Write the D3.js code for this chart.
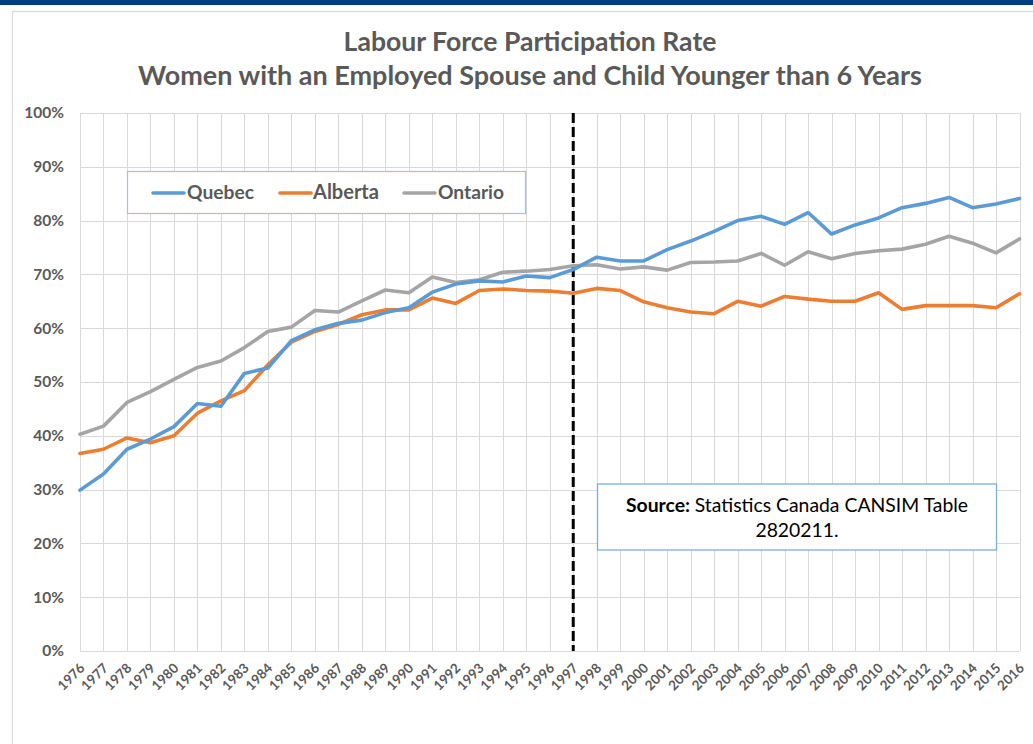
<!DOCTYPE html>
<html>
<head>
<meta charset="utf-8">
<script src="https://cdn.jsdelivr.net/npm/d3@7"></script>
<style>
  html, body { margin: 0; padding: 0; background: #fff; }
  svg { display: block; font-family: Lato, "Open Sans", sans-serif; }
</style>
</head>
<body>
<svg id="chart" width="1033" height="744"></svg>
<script>
const years = d3.range(1976, 2017);
const quebec = [29.9, 32.9, 37.5, 39.4, 41.7, 46.0, 45.5, 51.6, 52.6, 57.7, 59.7, 60.9, 61.5, 62.9, 63.8, 66.7, 68.2, 68.8, 68.6, 69.7, 69.4, 70.9,
  73.2, 72.5, 72.5, 74.6, 76.2, 78.0, 80.0, 80.8, 79.3, 81.5, 77.5, 79.2, 80.5, 82.4, 83.2, 84.3, 82.4, 83.1, 84.1];
const alberta = [36.7, 37.5, 39.6, 38.7, 40.0, 44.2, 46.5, 48.4, 53.2, 57.4, 59.4, 60.7, 62.5, 63.4, 63.4, 65.6, 64.6, 67.0, 67.3, 67.0, 66.9, 66.5,
  67.4, 67.0, 64.9, 63.8, 63.0, 62.7, 65.0, 64.1, 65.9, 65.4, 65.0, 65.0, 66.6, 63.5, 64.2, 64.2, 64.2, 63.8, 66.4];
const ontario = [40.3, 41.8, 46.2, 48.2, 50.5, 52.7, 53.9, 56.4, 59.4, 60.2, 63.3, 63.0, 65.1, 67.1, 66.6, 69.5, 68.5, 69.0, 70.4, 70.6, 70.9, 71.6,
  71.8, 71.0, 71.4, 70.8, 72.2, 72.3, 72.5, 73.9, 71.7, 74.2, 72.9, 73.9, 74.4, 74.7, 75.6, 77.1, 75.8, 74.0, 76.6];
const seriesNames = ["Quebec", "Alberta", "Ontario"];
const seriesColors = ["#5B9BD5", "#ED7D31", "#A5A5A5"];
const yTicks = [0, 10, 20, 30, 40, 50, 60, 70, 80, 90, 100];
const titleLines = ["Labour Force Participation Rate", "Women with an Employed Spouse and Child Younger than 6 Years"];
const markerYear = 1997;
const sourceLabel = "Source:";
const sourceText = ["Statistics Canada CANSIM Table", "2820211."];

const svg = d3.select("#chart");
const textColor = "#595959";

function fitText(sel, target) {
  const w = sel.node().getComputedTextLength();
  const fs = parseFloat(sel.attr("font-size"));
  sel.attr("font-size", (fs * target / w).toFixed(2));
}

// top banner
svg.append("rect").attr("x", 0).attr("y", 0).attr("width", 1033).attr("height", 5).attr("fill", "#003A80");
// chart frame
svg.append("rect").attr("x", 12.5).attr("y", 11.5).attr("width", 1040).attr("height", 760)
  .attr("fill", "#fff").attr("stroke", "#d9d9d9").attr("stroke-width", 1.2);

const x = d3.scaleLinear().domain([1976, 2016]).range([80, 1019.5]);
const y = d3.scaleLinear().domain([0, 100]).range([651, 113]);

// gridlines
const grid = svg.append("g").attr("stroke", "#d9d9d9").attr("stroke-width", 1);
grid.selectAll("line.v").data(years).join("line")
  .attr("x1", d => Math.round(x(d)) + 0.5).attr("x2", d => Math.round(x(d)) + 0.5)
  .attr("y1", y(100)).attr("y2", y(0));
grid.selectAll("line.h").data(yTicks).join("line")
  .attr("x1", x(1976)).attr("x2", x(2016))
  .attr("y1", d => Math.round(y(d)) + 0.5).attr("y2", d => Math.round(y(d)) + 0.5);

// y axis labels
const yAxis = d3.axisLeft(y).tickValues(yTicks).tickFormat(d => d + "%").tickSize(0).tickPadding(0);
const gy = svg.append("g").attr("transform", "translate(64,0)").call(yAxis);
gy.select(".domain").remove();
gy.selectAll("text").attr("fill", textColor).attr("font-size", 15.5).attr("font-weight", "bold")
  .attr("font-family", "Lato, sans-serif");

// x axis labels
const xAxis = d3.axisBottom(x).tickValues(years).tickFormat(d3.format("d")).tickSize(0).tickPadding(0);
const gx = svg.append("g").attr("transform", "translate(0,651)").call(xAxis);
gx.select(".domain").remove();
gx.selectAll("text")
  .attr("fill", textColor).attr("font-size", 13.5).attr("font-weight", "bold")
  .attr("font-family", "Lato, sans-serif")
  .attr("dy", null).attr("y", 0)
  .attr("text-anchor", "end")
  .attr("transform", "translate(5,18) rotate(-45)");

// marker line
svg.append("line")
  .attr("x1", x(markerYear)).attr("x2", x(markerYear))
  .attr("y1", y(100)).attr("y2", y(0))
  .attr("stroke", "#000").attr("stroke-width", 3).attr("stroke-dasharray", "10,4");

// series lines
const allSeries = [quebec, alberta, ontario];
const line = d3.line().x((d, i) => x(years[i])).y(d => y(d));
const drawOrder = [2, 1, 0];
drawOrder.forEach(k => {
  svg.append("path").datum(allSeries[k])
    .attr("d", line).attr("fill", "none")
    .attr("stroke", seriesColors[k]).attr("stroke-width", 3.6)
    .attr("stroke-linejoin", "round").attr("stroke-linecap", "round");
});

// title
titleLines.forEach((t, i) => {
  const tt = svg.append("text").attr("x", 530).attr("y", 51 + i * 34)
    .attr("text-anchor", "middle").attr("font-size", 22).attr("font-weight", "bold")
    .attr("fill", textColor).text(t);
  fitText(tt, i === 0 ? 373 : 784);
});

// legend
svg.append("rect").attr("x", 127.5).attr("y", 171.5).attr("width", 398).attr("height", 42)
  .attr("fill", "#fff").attr("stroke", "#9DC3E6").attr("stroke-width", 1.2);
const legendPos = [{lx: 153, tx: 187, tw: 67}, {lx: 280, tx: 313, tw: 66}, {lx: 404, tx: 438, tw: 66}];
seriesNames.forEach((n, k) => {
  const p = legendPos[k];
  svg.append("line").attr("x1", p.lx).attr("x2", p.lx + 31).attr("y1", 193).attr("y2", 193)
    .attr("stroke", seriesColors[k]).attr("stroke-width", 3.6).attr("stroke-linecap", "round");
  const t = svg.append("text").attr("x", p.tx).attr("y", 199).attr("font-size", 17)
    .attr("font-weight", "bold").attr("fill", textColor).text(n);
  fitText(t, p.tw);
});

// source box
svg.append("rect").attr("x", 597.5).attr("y", 484).attr("width", 399).attr("height", 66)
  .attr("fill", "#fff").attr("stroke", "#7FAEDD").attr("stroke-width", 1.3);
const s1 = svg.append("text").attr("x", 797).attr("y", 511.5).attr("text-anchor", "middle")
  .attr("font-size", 17).attr("fill", "#000");
s1.append("tspan").attr("font-weight", "bold").text(sourceLabel + " ");
s1.append("tspan").text(sourceText[0]);
fitText(s1, 342);
const s2 = svg.append("text").attr("x", 797).attr("y", 537).attr("text-anchor", "middle")
  .attr("font-size", s1.attr("font-size")).attr("fill", "#000").text(sourceText[1]);
</script>
</body>
</html>
